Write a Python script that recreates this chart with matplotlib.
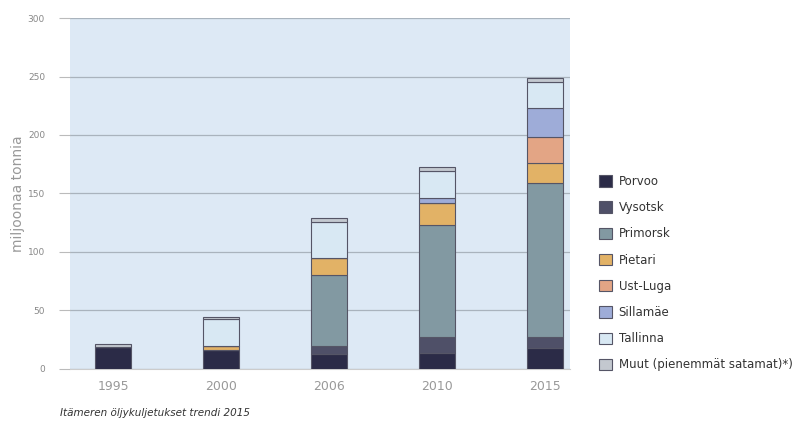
import matplotlib.pyplot as plt
import numpy as np

years = ["1995", "2000", "2006", "2010", "2015"]

porvoo   = [19, 16, 13, 14, 18]
vysotsk  = [0, 0, 7, 13, 9]
primorsk = [0, 0, 60, 96, 132]
pietari  = [0, 4, 15, 19, 17]
ust_luga = [0, 0, 0, 0, 22]
sillamae = [0, 0, 0, 4, 25]
tallinna = [0, 23, 31, 23, 22]
muut     = [2, 1, 3, 4, 4]

series = [
    ("Porvoo",   porvoo,   "#2b2b47"),
    ("Vysotsk",  vysotsk,  "#4f5068"),
    ("Primorsk", primorsk, "#8299a2"),
    ("Pietari",  pietari,  "#e2b266"),
    ("Ust-Luga", ust_luga, "#e3a585"),
    ("Sillamäe", sillamae, "#9eacd8"),
    ("Tallinna", tallinna, "#d8e8f3"),
    ("Muut (pienemmät satamat)*)", muut, "#c3c8cf"),
]

fig = plt.figure(figsize=(8, 4.29), dpi=100)
ax = fig.add_axes([0.0875, 0.14, 0.625, 0.818])
ax.set_facecolor("#dde9f5")

x = np.arange(len(years))
bottom = np.zeros(len(years))
for name, vals, color in series:
    vals = np.array(vals, dtype=float)
    ax.bar(x, vals, bottom=bottom, width=0.33, color=color,
           edgecolor="#555566", linewidth=0.8, label=name, zorder=3)
    bottom += vals

ax.set_ylim(0, 300)
ax.set_xlim(-0.4, 4.23)
ax.set_yticks(range(0, 301, 50))
ax.set_yticklabels([str(v) for v in range(0, 301, 50)], fontsize=6.5, color="#888888")
ax.set_xticks(x)
ax.set_xticklabels(years, fontsize=9, color="#999999")
ax.tick_params(axis="y", length=8, color="#bbbbbb", pad=10)
ax.tick_params(axis="x", length=0, pad=8)
ax.yaxis.grid(True, color="#a9b3bd", linewidth=0.9, zorder=0)
ax.set_axisbelow(True)
for s in ["top", "right", "left"]:
    ax.spines[s].set_visible(False)
ax.spines["bottom"].set_color("#cccccc")

ax.set_ylabel("miljoonaa tonnia", fontsize=10, color="#999999", labelpad=2)

handles, labels = ax.get_legend_handles_labels()
fig.legend(handles, labels, loc="upper left", bbox_to_anchor=(0.735, 0.617),
           frameon=False, fontsize=8.5, handlelength=1.1, handleheight=1.1,
           labelspacing=1.12, handletextpad=0.6, labelcolor="#333333")

fig.text(0.075, 0.03, "Itämeren öljykuljetukset trendi 2015", fontsize=7.5,
         style="italic", color="#333333")

plt.savefig("out.png", dpi=100)
